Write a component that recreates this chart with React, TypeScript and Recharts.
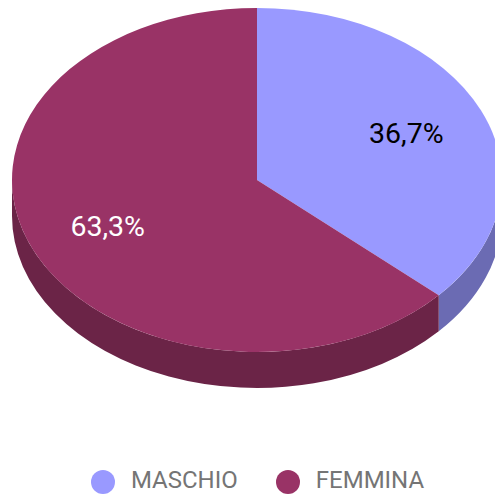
import React from "react";
import { PieChart, Pie, Legend } from "recharts";

const CATEGORIES = ["MASCHIO", "FEMMINA"];
const VALUES = [36.7, 63.3];
const COLORS = ["#9999FF", "#993366"];
const SIDE_COLORS = ["#6B6BB3", "#6B2447"];
const LABEL_COLORS = ["#000000", "#FFFFFF"];

const TILT = 172 / 245;
const DEPTH = 36;
const RAD = Math.PI / 180;

const table = CATEGORIES.map((name, i) => ({
  name,
  value: VALUES[i],
  fill: COLORS[i],
  side: SIDE_COLORS[i],
}));

// recharts angles squashed into the tilted ellipse
const px = (cx: number, r: number, a: number) => cx + r * Math.cos(a * RAD);
const py = (cy: number, r: number, a: number) => cy - r * TILT * Math.sin(a * RAD);

function Slice3D(props: any) {
  const { cx, cy, outerRadius: r, startAngle, endAngle, fill, side } = props;
  const ry = r * TILT;
  const large = Math.abs(startAngle - endAngle) > 180 ? 1 : 0;
  const top =
    `M${cx},${cy} L${px(cx, r, startAngle)},${py(cy, r, startAngle)} ` +
    `A${r},${ry} 0 ${large} 1 ${px(cx, r, endAngle)},${py(cy, r, endAngle)} Z`;

  // only the front half of the rim shows
  const hi = Math.min(startAngle, 0);
  const lo = Math.max(endAngle, -180);
  let wall = "";
  if (hi > lo) {
    const x0 = px(cx, r, hi);
    const y0 = py(cy, r, hi);
    const x1 = px(cx, r, lo);
    const y1 = py(cy, r, lo);
    wall =
      `M${x0},${y0} A${r},${ry} 0 0 1 ${x1},${y1} L${x1},${y1 + DEPTH} ` +
      `A${r},${ry} 0 0 0 ${x0},${y0 + DEPTH} Z`;
  }

  return (
    <g>
      {wall && <path d={wall} fill={side} />}
      <path d={top} fill={fill} />
    </g>
  );
}

function SliceLabel(props: any) {
  const { cx, cy, outerRadius: r, midAngle, index } = props;
  return (
    <text
      x={px(cx, (r * 2) / 3, midAngle)}
      y={py(cy, (r * 2) / 3, midAngle)}
      textAnchor="middle"
      dominantBaseline="central"
      fontFamily="Roboto"
      fontSize={28.5}
      fill={LABEL_COLORS[index]}
    >
      {VALUES[index].toFixed(1).replace(".", ",")}%
    </text>
  );
}

export default function App() {
  return (
    <div style={{ position: "absolute", left: 0, top: 0, width: 495, height: 497, overflow: "hidden", background: "#fff" }}>
      <PieChart width={495} height={497} margin={{ top: 0, right: 0, bottom: 0, left: 0 }}>
        <Pie
          data={table}
          dataKey="value"
          nameKey="name"
          cx={257}
          cy={180}
          innerRadius={0}
          outerRadius={245}
          startAngle={90}
          endAngle={-270}
          shape={Slice3D}
          label={SliceLabel}
          labelLine={false}
          isAnimationActive={false}
        />
        <Legend
          layout="horizontal"
          align="center"
          verticalAlign="bottom"
          iconType="circle"
          iconSize={24}
          itemSorter={null}
          wrapperStyle={{ fontFamily: "Roboto", fontSize: 24, bottom: 3, left: 15 }}
          formatter={(value: string, _entry: any, i: number) => (
            <span style={{ color: "#757575", marginLeft: 12, marginRight: i === 0 ? 28 : 0 }}>{value}</span>
          )}
        />
      </PieChart>
    </div>
  );
}
